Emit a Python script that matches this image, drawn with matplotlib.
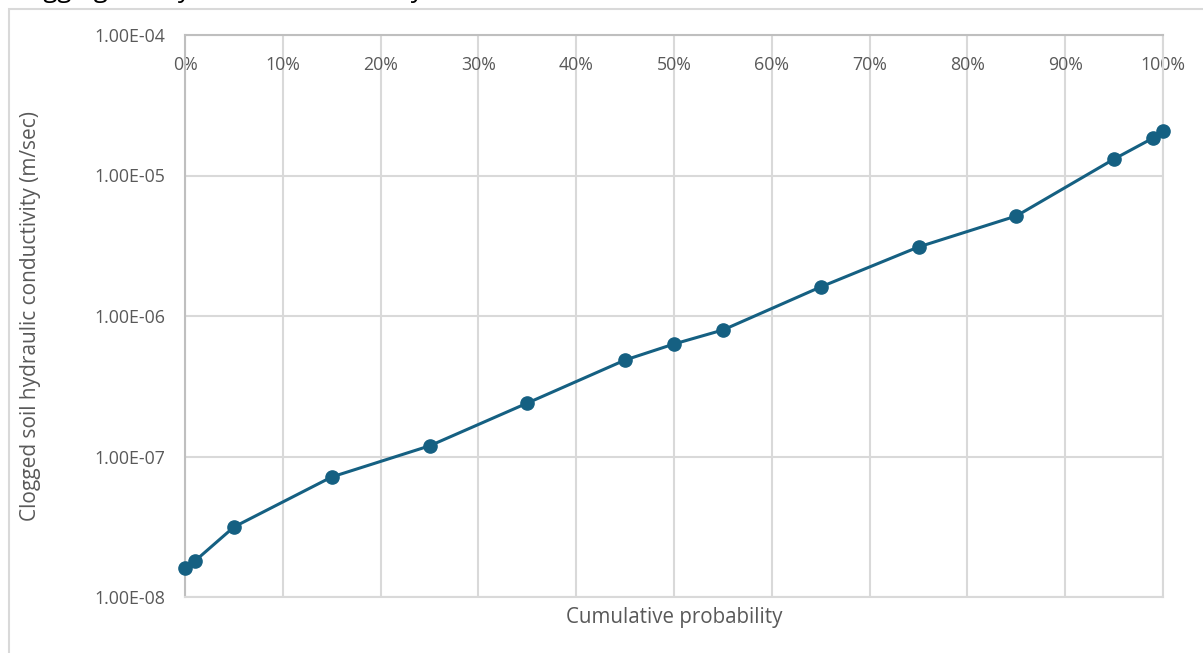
import matplotlib
matplotlib.use("Agg")
import matplotlib.pyplot as plt
from matplotlib.patches import Rectangle
from matplotlib.ticker import FixedLocator, FuncFormatter

# Data
cum_prob = [0.00, 0.01, 0.05, 0.15, 0.25, 0.35, 0.45, 0.50, 0.55, 0.65, 0.75, 0.85, 0.95, 0.99, 1.00]
conductivity = [1.61e-8, 1.80e-8, 3.15e-8, 7.15e-8, 1.19e-7, 2.40e-7, 4.86e-7, 6.32e-7,
                7.95e-7, 1.61e-6, 3.10e-6, 5.15e-6, 1.31e-5, 1.85e-5, 2.07e-5]
x_ticks = [0.0, 0.1, 0.2, 0.3, 0.4, 0.5, 0.6, 0.7, 0.8, 0.9, 1.0]
y_ticks = [1e-8, 1e-7, 1e-6, 1e-5, 1e-4]
title_text = "Clogging soil hydraulic conductivity"
y_label = "Clogged soil hydraulic conductivity (m/sec)"
x_label = "Cumulative probability"

plt.rcParams['font.family'] = ['Open Sans', 'DejaVu Sans']

W, H = 1203, 653
fig = plt.figure(figsize=(W / 100, H / 100), dpi=100)
fig.patch.set_facecolor('white')

L, R, T, B = 185, 1163, 35, 597
ax = fig.add_axes([L / W, 1 - B / H, (R - L) / W, (B - T) / H])

line_color = '#156082'
text_color = '#595959'
grid_color = '#d9d9d9'
axis_color = '#bfbfbf'

ax.plot(cum_prob, conductivity, color=line_color, lw=2.2, marker='o', ms=9.5,
        markerfacecolor=line_color, markeredgecolor=line_color, zorder=3, clip_on=False)

ax.set_yscale('log')
ax.set_xlim(0, 1)
ax.set_ylim(1e-8, 1e-4)
ax.yaxis.set_major_locator(FixedLocator(y_ticks))
ax.yaxis.set_minor_locator(FixedLocator([]))
ax.yaxis.set_major_formatter(FuncFormatter(lambda v, p: "%.2E" % v))
ax.xaxis.set_major_locator(FixedLocator(x_ticks))
ax.xaxis.set_major_formatter(FuncFormatter(lambda v, p: "%d%%" % round(v * 100)))

ax.grid(True, color=grid_color, lw=1.5)
ax.set_axisbelow(True)
for side in ['right', 'bottom']:
    ax.spines[side].set_color(grid_color)
    ax.spines[side].set_linewidth(1.5)
for side in ['left', 'top']:
    ax.spines[side].set_color(axis_color)
    ax.spines[side].set_linewidth(1.5)

ax.xaxis.tick_top()
ax.tick_params(axis='x', length=0, pad=-21.6, labelsize=12.8, labelcolor=text_color)
ax.tick_params(axis='y', length=0, pad=14.4, labelsize=12.8, labelcolor=text_color)
for lbl in ax.get_xticklabels():
    lbl.set_va('center')

ax.set_ylabel(y_label, fontsize=15, color=text_color)
ax.yaxis.label.set_va('center')
ax.yaxis.set_label_coords((31 - L) / (R - L), 0.5)
ax.set_xlabel(x_label, fontsize=14.8, color=text_color)
ax.xaxis.set_label_position('bottom')
ax.xaxis.set_label_coords(0.5, -(618 - B) / (B - T))
ax.xaxis.label.set_va('center')

# outer chart border (only top and left visible in the crop)
fig.patches.append(Rectangle((9 / W, -0.05), 1.1, 1 - 9 / H + 0.05, transform=fig.transFigure,
                             fill=False, edgecolor=grid_color, lw=1.5))

# title, cut off at the top of the image as in the reference
fig.text(5 / W, 1 + 3 / H, title_text, fontsize=18.5, color='black', va='baseline', ha='left')

fig.savefig('out.png', dpi=100)
